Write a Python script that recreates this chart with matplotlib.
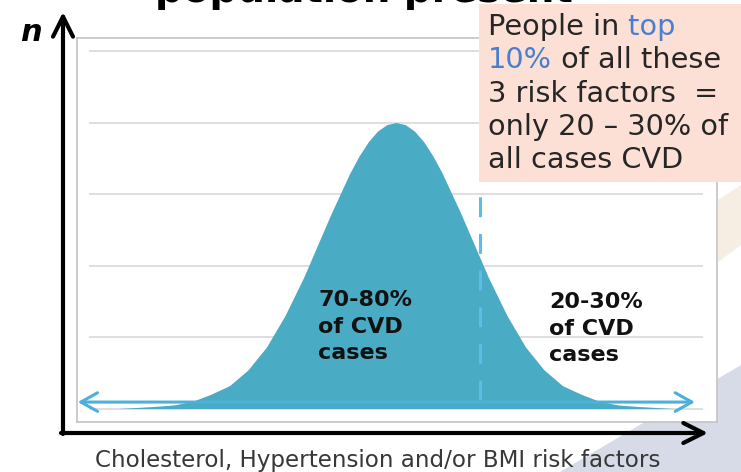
import matplotlib.pyplot as plt
from matplotlib.patches import FancyArrowPatch, Polygon, Rectangle
from matplotlib.text import Annotation

W, H = 741, 472

# risk level (SD units) against number of people, in gridline steps
risk_z = [-3.75, -3.25, -3.0, -2.75, -2.5, -2.25, -2.0, -1.75, -1.5, -1.25,
          -1.0, -0.875, -0.75, -0.625, -0.5, -0.375, -0.25, -0.125, 0.0,
          0.125, 0.25, 0.375, 0.5, 0.625, 0.75, 0.875, 1.0, 1.25, 1.5, 1.75,
          2.0, 2.25, 2.5, 2.75, 3.0, 3.25, 3.75]
population_n = [0.0, 0.03, 0.05, 0.1, 0.2, 0.32, 0.54, 0.86, 1.3, 1.83,
                2.43, 2.73, 3.01, 3.29, 3.53, 3.73, 3.88, 3.97, 4.0,
                3.97, 3.88, 3.73, 3.53, 3.29, 3.01, 2.73, 2.43, 1.83, 1.3, 0.86,
                0.54, 0.32, 0.2, 0.1, 0.05, 0.03, 0.0]
grid_levels = [0, 1, 2, 3, 4, 5]
cutoff_z = 1.13       # top 10% cut-off
cutoff_top = 3.0

below_label = "70-80%\nof CVD\ncases"
above_label = "20-30%\nof CVD\ncases"
x_label = "Cholesterol, Hypertension and/or BMI risk factors"
title_text = "population present"
box_lines = [
    [("People in", "dark"), (" top", "blue")],
    [("10%", "blue"), (" of all these", "dark")],
    [("3 risk factors  =", "dark")],
    [("only 20 \u2013 30% of", "dark")],
    [("all cases CVD", "dark")],
]

FILL = "#4aabc5"
ARROW = "#4bb0da"
DASH = "#5cbde6"
GRID = "#d9d9d9"
TEXT_COLORS = {"dark": "#262626", "blue": "#4a7fd0"}


def fx(px):
    return px / W


def fy(py):
    return 1 - py / H


fig = plt.figure(figsize=(W / 100, H / 100), dpi=100)
fig.patch.set_facecolor("white")

# slide background shapes
fig.add_artist(Polygon([(fx(560), fy(472)), (fx(741), fy(472)), (fx(741), fy(365))],
                       closed=True, transform=fig.transFigure, facecolor="#d6dbe7",
                       edgecolor="none", zorder=-2))
fig.add_artist(Polygon([(fx(718), fy(200)), (fx(741), fy(185)), (fx(741), fy(245)),
                        (fx(718), fy(262))],
                       closed=True, transform=fig.transFigure, facecolor="#f6ede3",
                       edgecolor="none", zorder=-2))

# plot area
ax = fig.add_axes([fx(77), fy(422), (717 - 77) / W, (422 - 38) / H])
ax.set_xlim((77 - 396) / 74, (717 - 396) / 74)
ax.set_ylim(-(422 - 408.5) / 71.5, (408.5 - 38) / 71.5)
ax.set_xticks([])
ax.set_yticks([])
for sp in ax.spines.values():
    sp.set_color("#c4c4c4")
    sp.set_linewidth(1.2)

ax.hlines(grid_levels, -4.15, 4.15, color=GRID, lw=1.2, zorder=1)
ax.fill_between(risk_z, population_n, 0, color=FILL, lw=0, zorder=2)
ax.vlines(cutoff_z, 0.12, cutoff_top, color=DASH, lw=2.2,
          linestyles=[(0, (6.5, 5.5))], zorder=3)
ax.annotate("", xy=(-4.30, 0.09), xytext=(4.04, 0.09),
            arrowprops=dict(arrowstyle="<->,head_length=0.5,head_width=0.28",
                            color=ARROW, lw=2.2, mutation_scale=24,
                            shrinkA=0, shrinkB=0), zorder=4)

ax.text(-1.054, 1.66, below_label, ha="left", va="top", fontsize=16,
        fontweight="bold", color="#111111", linespacing=1.42, zorder=5)
ax.text(2.07, 1.63, above_label, ha="left", va="top", fontsize=16,
        fontweight="bold", color="#111111", linespacing=1.42, zorder=5)

# black axis arrows
arrow_style = "->,head_length=0.6,head_width=0.3"
fig.add_artist(FancyArrowPatch((fx(63), fy(434)), (fx(63), fy(12)),
                               transform=fig.transFigure, arrowstyle=arrow_style,
                               mutation_scale=24, color="black", lw=3,
                               shrinkA=0, shrinkB=0, zorder=4))
fig.add_artist(FancyArrowPatch((fx(61), fy(433)), (fx(708), fy(433)),
                               transform=fig.transFigure, arrowstyle=arrow_style,
                               mutation_scale=24, color="black", lw=3,
                               shrinkA=0, shrinkB=0, zorder=4))

fig.text(fx(31), fy(41), "n", ha="center", va="baseline", fontsize=22,
         fontweight="bold", fontstyle="italic", color="black")
fig.text(fx(378), fy(467), x_label, ha="center", va="baseline", fontsize=16.6,
         color="#383838")
fig.text(fx(155), fy(2), title_text, ha="left", va="baseline", fontsize=28,
         fontweight="bold", color="black")

# callout box with two-colour lines
fig.add_artist(Rectangle((fx(479), fy(182)), (741 - 479) / W, (182 - 4) / H,
                         transform=fig.transFigure, facecolor="#fce0d5",
                         edgecolor="none", zorder=5))
baseline = 35
for line in box_lines:
    prev = None
    for seg, col in line:
        if prev is None:
            prev = fig.text(fx(488), fy(baseline), seg, ha="left", va="baseline",
                            fontsize=20.7, color=TEXT_COLORS[col], zorder=6)
        else:
            nxt = Annotation(seg, xy=(1, 0), xycoords=prev, ha="left", va="bottom",
                             fontsize=20.7, color=TEXT_COLORS[col], zorder=6)
            fig.add_artist(nxt)
            prev = nxt
    baseline += 33.3

fig.savefig("out.png", dpi=100)
